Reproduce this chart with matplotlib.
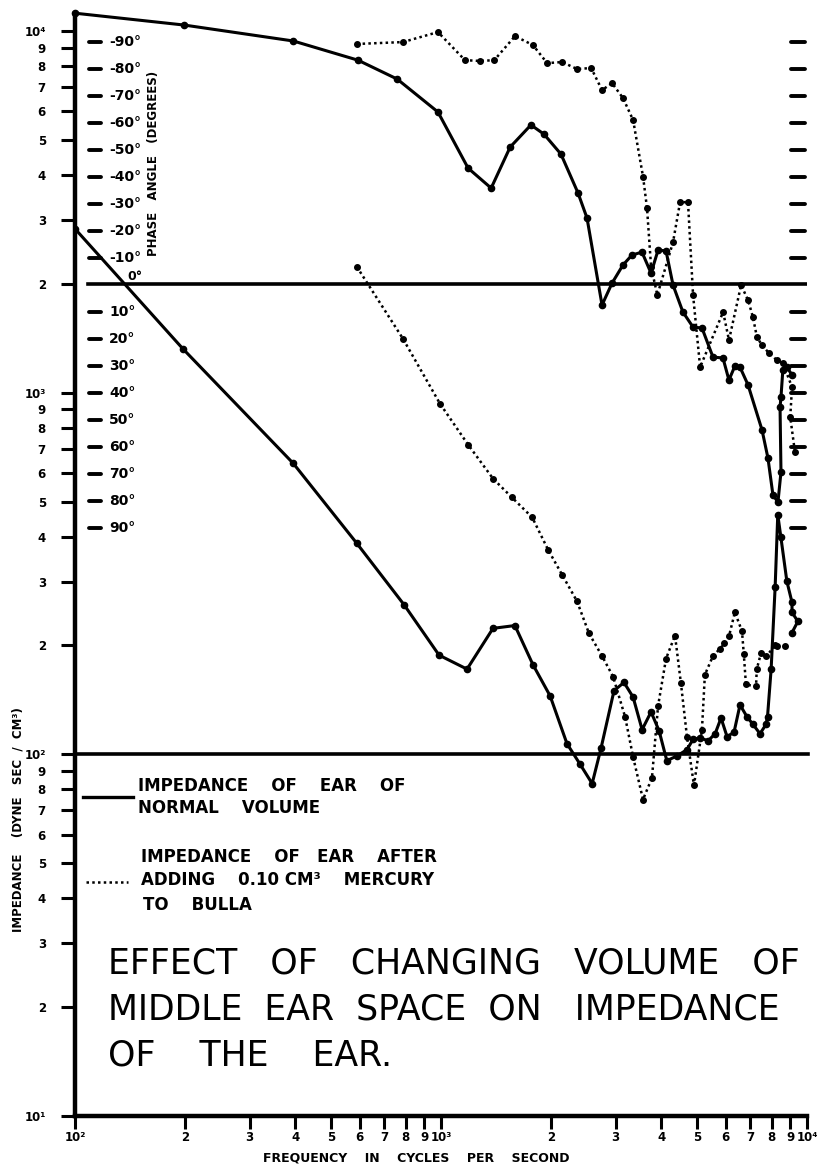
import numpy as np
import matplotlib.pyplot as plt
from matplotlib.ticker import FixedLocator, NullLocator
from matplotlib.transforms import blended_transform_factory

# Impedance of ear of normal volume (dyne sec / cm^3)
freq_imp_normal = [100, 197, 395, 589, 793, 988, 1178, 1387, 1592, 1783, 1987, 2209,
                   2397, 2588, 2737, 2970, 3162, 3348, 3544, 3749, 3945, 4140, 4414,
                   4699, 4883, 5105, 5370, 5610, 5823, 6046, 6317, 6561, 6855, 7119,
                   7441, 7727, 7800, 7980, 8185, 8320, 8480, 8810, 9100, 9100, 9440, 9100]
imp_normal = [2838, 1323, 637, 383, 259, 188, 172, 223, 227, 177, 145, 107,
              94, 83, 104, 150, 158, 144, 117, 131, 116, 96, 99,
              103, 110, 111, 109, 114, 126, 112, 115, 137, 127, 121,
              114, 121, 127, 172, 291, 460, 400, 301, 263, 247, 233, 217]

# Impedance after adding 0.10 cm^3 mercury to bulla
freq_imp_mercury = [589, 787, 993, 1186, 1388, 1563, 1775, 1961, 2141, 2353, 2537, 2754,
                    2952, 3184, 3351, 3564, 3770, 3918, 4120, 4359, 4525, 4699, 4911,
                    5164, 5260, 5535, 5785, 5950, 6121, 6353, 6643, 6720, 6810, 7257,
                    7290, 7482, 7750, 8185, 8300, 8700]
imp_mercury = [2228, 1410, 933, 718, 578, 513, 452, 368, 314, 265, 216, 187,
               164, 127, 98, 75, 86, 136, 184, 213, 157, 112, 82,
               117, 166, 187, 196, 203, 212, 247, 219, 189, 156, 154,
               172, 190, 187, 200, 199, 199]

# Phase angle (degrees), normal volume
freq_ph_normal = [100, 199, 395, 593, 759, 981, 1186, 1371, 1545, 1761, 1911, 2127,
                  2368, 2506, 2754, 2933, 3141, 3324, 3541, 3749, 3919, 4120, 4305,
                  4581, 4883, 5165, 5535, 5893, 6120, 6353, 6560, 6901, 7536, 7822,
                  8072, 8330, 8490, 8440, 8490, 8590, 8810, 9100]
ph_normal = [-100.7, -96.3, -90.4, -83.3, -76.3, -64.1, -43.3, -35.9, -51.1, -59.3, -55.9, -48.5,
             -34.1, -24.8, 7.4, -0.7, -7.4, -11.1, -12.2, -4.4, -13.0, -12.6, 0.0,
             10.0, 15.6, 15.9, 26.7, 27.0, 35.2, 30.0, 30.4, 37.0, 53.7, 64.1,
             77.8, 80.4, 69.3, 45.2, 41.5, 31.5, 30.4, 33.3]

# Phase angle (degrees), after adding mercury
freq_ph_mercury = [589, 787, 981, 1163, 1279, 1398, 1593, 1783, 1950, 2143, 2355, 2572,
                   2754, 2933, 3141, 3349, 3566, 3655, 3750, 3900, 4305, 4500, 4730,
                   4883, 5105, 5900, 6121, 6606, 6902, 7118, 7297, 7530, 7870, 8270,
                   8590, 9100, 9000, 9270]
ph_mercury = [-89.3, -90.0, -93.7, -83.3, -83.0, -83.3, -92.2, -88.9, -82.2, -82.6, -80.0, -80.4,
              -72.2, -74.8, -69.3, -61.1, -40.0, -28.5, -6.7, 3.7, -15.9, -30.7, -30.7,
              3.7, 30.4, 10.0, 20.4, 0.0, 5.6, 11.9, 19.3, 22.2, 25.2, 27.8,
              28.9, 37.8, 48.9, 61.9]

phase_ticks = [-90, -80, -70, -60, -50, -40, -30, -20, -10, 0,
               10, 20, 30, 40, 50, 60, 70, 80, 90]

x_ticks = [100, 200, 300, 400, 500, 600, 700, 800, 900, 1000,
           2000, 3000, 4000, 5000, 6000, 7000, 8000, 9000, 10000]
x_labels = ['10²', '2', '3', '4', '5', '6', '7', '8', '9', '10³',
            '2', '3', '4', '5', '6', '7', '8', '9', '10⁴']
y_ticks = [10, 20, 30, 40, 50, 60, 70, 80, 90, 100, 200, 300, 400, 500, 600, 700, 800, 900,
           1000, 2000, 3000, 4000, 5000, 6000, 7000, 8000, 9000, 10000]
y_labels = ['10¹', '2', '3', '4', '5', '6', '7', '8', '9', '10²', '2', '3', '4', '5', '6', '7', '8', '9',
            '10³', '2', '3', '4', '5', '6', '7', '8', '9', '10⁴']

W, H = 826, 1167
fig = plt.figure(figsize=(W / 100, H / 100), dpi=100)
ax = fig.add_axes([75 / W, 1 - 1116 / H, 732 / W, 1102 / H])
ax.set_xscale('log')
ax.set_yscale('log')
ax.set_xlim(100, 10000)
ax.set_ylim(10, 11140)

for s in ['top', 'right']:
    ax.spines[s].set_visible(False)
for s in ['left', 'bottom']:
    ax.spines[s].set_linewidth(3.2)

ax.xaxis.set_major_locator(FixedLocator(x_ticks))
ax.xaxis.set_minor_locator(NullLocator())
ax.set_xticklabels(x_labels)
ax.yaxis.set_major_locator(FixedLocator(y_ticks))
ax.yaxis.set_minor_locator(NullLocator())
ax.set_yticklabels(y_labels)
ax.tick_params(axis='x', length=9, width=2.2, pad=2, labelsize=8.5)
ax.tick_params(axis='y', length=10, width=2.2, pad=11, labelsize=8.5)
for lab in ax.get_xticklabels() + ax.get_yticklabels():
    lab.set_fontweight('bold')

# reference levels
ax.axhline(100, xmin=0, xmax=1.002, color='black', lw=2.6, clip_on=False)
ax.axhline(2000, xmin=13 / 732, xmax=0.998, color='black', lw=2.6)

dotted = (0, (1, 1.3))
ax.plot(freq_imp_normal, imp_normal, color='black', lw=2.2, marker='o', ms=4.5)
ax.plot(freq_imp_mercury, imp_mercury, color='black', lw=1.8, ls=dotted, marker='o', ms=4)

# phase angle on its own linear scale, 0 deg at the 2000 level
ax2 = ax.twinx()
ax2.set_ylim(307.8, -100.4)
for s in ax2.spines.values():
    s.set_visible(False)
ax2.set_yticks([])
ax2.plot(freq_ph_normal, ph_normal, color='black', lw=2.2, marker='o', ms=4.5, clip_on=False)
ax2.plot(freq_ph_mercury, ph_mercury, color='black', lw=1.8, ls=dotted, marker='o', ms=4)

tr = blended_transform_factory(ax2.transAxes, ax2.transData)
for p in phase_ticks:
    if p == 0:
        ax2.text(52 / 732, -3, '0°', transform=tr, ha='left', va='center',
                 fontsize=9, fontweight='bold')
        continue
    ax2.plot([14 / 732, 26 / 732], [p, p], transform=tr, color='black', lw=2.8,
             solid_capstyle='round')
    ax2.plot([716 / 732, 730 / 732], [p, p], transform=tr, color='black', lw=2.8,
             solid_capstyle='round', clip_on=False)
    ax2.text(34 / 732, p, f'{p}°', transform=tr, ha='left', va='center',
             fontsize=10, fontweight='bold')

ax2.text(79 / 732, -45, 'PHASE   ANGLE   (DEGREES)', transform=tr, rotation=90,
         ha='center', va='center', fontsize=8.5, fontweight='bold')

# legend
def fx(px):
    return (px - 75) / 732

def fy(py):
    return (1116 - py) / 1102

ax.plot([fx(83), fx(133)], [fy(797), fy(797)], transform=ax.transAxes, color='black', lw=2.4)
ax.plot([fx(86), fx(128)], [fy(882), fy(882)], transform=ax.transAxes, color='black',
        lw=1.8, ls=dotted)
legend_lines = [(138, 786, 'IMPEDANCE    OF    EAR    OF'),
                (138, 808, 'NORMAL    VOLUME'),
                (141, 857, 'IMPEDANCE    OF   EAR    AFTER'),
                (141, 880, 'ADDING    0.10 CM³    MERCURY'),
                (143, 905, 'TO    BULLA')]
for px, py, t in legend_lines:
    fig.text(px / W, 1 - py / H, t, ha='left', va='center', fontsize=12, fontweight='bold')

title_lines = [(108, 963, 'EFFECT   OF   CHANGING   VOLUME   OF'),
               (108, 1010, 'MIDDLE  EAR  SPACE  ON   IMPEDANCE'),
               (108, 1056, 'OF    THE    EAR.')]
for px, py, t in title_lines:
    fig.text(px / W, 1 - py / H, t, ha='left', va='center', fontsize=25)

fig.text(18 / W, 1 - 820 / H, 'IMPEDANCE    (DYNE   SEC  /  CM³)', rotation=90,
         ha='center', va='center', fontsize=8.5, fontweight='bold')
fig.text(416 / W, 1 - 1158 / H, 'FREQUENCY    IN    CYCLES    PER    SECOND',
         ha='center', va='center', fontsize=9, fontweight='bold')

fig.savefig('out.png', dpi=100)
